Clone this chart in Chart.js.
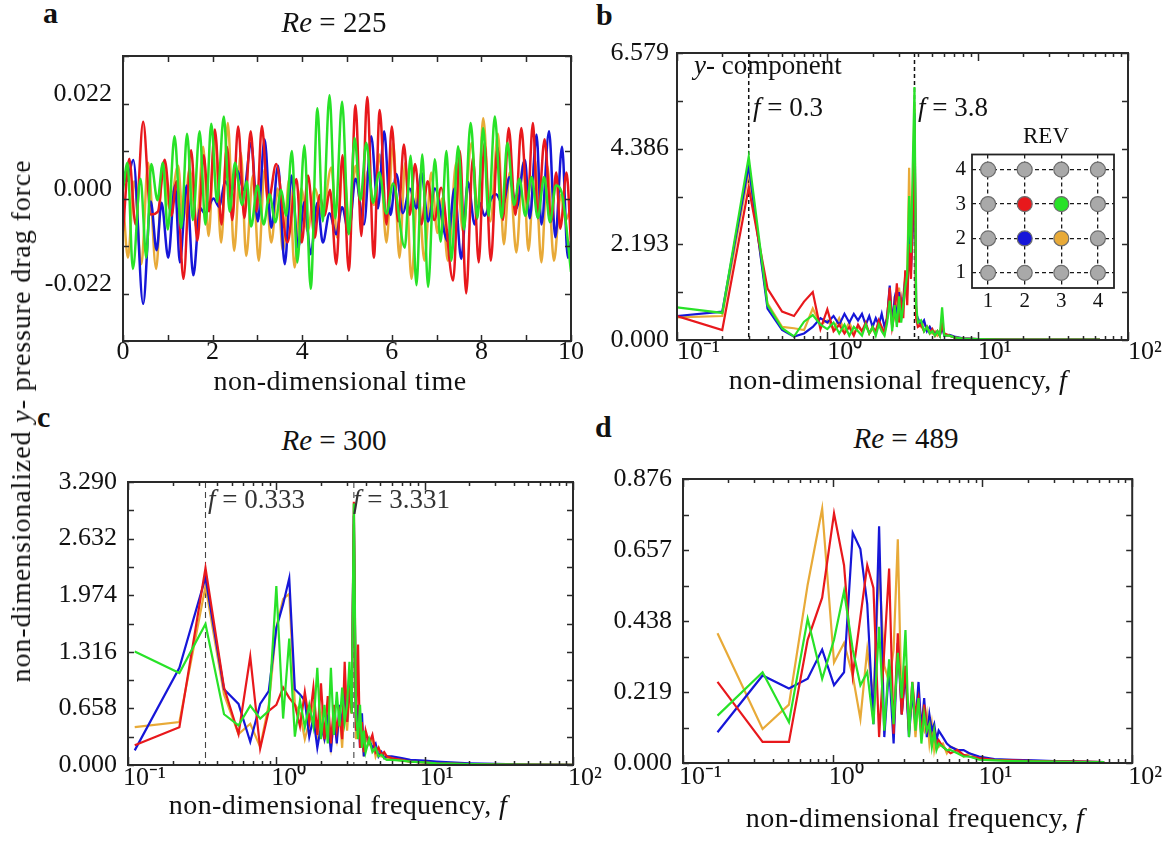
<!DOCTYPE html>
<html>
<head>
<meta charset="utf-8">
<script src="https://cdn.jsdelivr.net/npm/chart.js@4.4.1/dist/chart.umd.min.js"></script>
<style>
  body { margin: 0; width: 1167px; height: 841px; overflow: hidden; background: #fff; position: relative;
         font-family: 'Liberation Serif', 'Times New Roman', serif; color: #111; }
  canvas { position: absolute; }
  .t { position: absolute; white-space: nowrap; line-height: 1; font-size: 27px; }
  .c { transform: translateX(-50%); }
  .ti { font-size: 29px; }
  .ax { font-size: 28px; letter-spacing: 0.4px; }
  .lt { font-size: 30px; font-weight: bold; }
</style>
</head>
<body>
<canvas id="ca" width="578" height="359" style="left:23px;top:32px"></canvas>
<canvas id="cb" width="590" height="348" style="left:577px;top:32px"></canvas>
<canvas id="cc" width="585" height="347" style="left:28px;top:458px"></canvas>
<canvas id="cd" width="584" height="348" style="left:583px;top:455px"></canvas>
<canvas id="rev" width="180" height="180" style="left:942px;top:138px"></canvas>

<div class="t lt" style="left:43px;top:-2px">a</div>
<div class="t lt" style="left:596px;top:0px">b</div>
<div class="t lt" style="left:37px;top:402px">c</div>
<div class="t lt" style="left:595px;top:412px">d</div>

<div class="t c ti" style="left:334px;top:8px"><i>Re</i> = 225</div>
<div class="t c ti" style="left:334px;top:426px"><i>Re</i> = 300</div>
<div class="t c ti" style="left:906px;top:424px"><i>Re</i> = 489</div>

<div class="t c ax" style="left:340px;top:367px">non-dimensional time</div>
<div class="t c ax" style="left:898px;top:366px">non-dimensional frequency, <i>f</i></div>
<div class="t c ax" style="left:338px;top:791px">non-dimensional frequency, <i>f</i></div>
<div class="t c ax" style="left:915px;top:804px">non-dimensional frequency, <i>f</i></div>
<div class="t ax" style="left:21px;top:421px;letter-spacing:0.9px;transform:translate(-50%,-50%) rotate(-90deg)">non-dimensionalized <i>y</i>- pressure drag force</div>

<div class="t" style="left:694px;top:52px"><i>y</i>- component</div>
<div class="t" style="left:753px;top:94px"><i>f</i> = 0.3</div>
<div class="t" style="left:918px;top:94px"><i>f</i> = 3.8</div>
<div class="t" style="left:208px;top:486px;color:#333"><i>f</i> = 0.333</div>
<div class="t" style="left:353px;top:486px;color:#333"><i>f</i> = 3.331</div>
<div class="t c" style="left:1046px;top:124px;font-size:23px">REV</div>

<script>
// ---- panel a: time series [t, value] ----
const aGreen = [[0,0.002],[0.10,0.0083],[0.22,-0.0163],[0.39,0.0046],[0.52,-0.0137],[0.63,0.008],[0.77,-0.0004],[0.89,0.0083],[1.00,-0.0072],
  [1.15,0.0144],[1.30,-0.0068],[1.43,0.015],[1.56,-0.005],[1.71,0.0156],[1.84,-0.006],[1.97,0.0173],[2.10,-0.0008],[2.25,0.019],[2.38,-0.003],
  [2.50,0.0083],[2.66,-0.0015],[2.76,0.004],[2.86,-0.0065],[3.00,0.003],[3.14,-0.006],[3.27,0.001],[3.40,-0.0055],[3.53,0.002],[3.64,-0.004],
  [3.77,0.011],[3.89,-0.0148],[4.05,0.0123],[4.19,-0.0209],[4.34,0.0209],[4.46,-0.0053],[4.61,0.0239],[4.74,-0.0046],[4.89,0.0224],[5.04,-0.0083],
  [5.17,0.014],[5.30,-0.0004],[5.43,0.0129],[5.58,-0.001],[5.72,0.006],[5.88,-0.0035],[6.03,0.0035],[6.29,-0.0114],[6.42,0.0099],[6.55,-0.0201],
  [6.68,0.0102],[6.81,-0.0205],[6.96,0.0091],[7.09,-0.01],[7.22,0.011],[7.33,-0.0144],[7.48,0.0121],[7.61,-0.0072],[7.76,0.0175],[7.91,-0.0046],
  [8.04,0.0163],[8.16,-0.004],[8.30,0.019],[8.45,-0.0045],[8.58,0.0129],[8.73,-0.0015],[8.85,0.0046],[8.98,-0.004],[9.12,0.005],[9.26,-0.0045],
  [9.40,0.005],[9.53,-0.0055],[9.66,0.003],[9.80,0.001],[10,-0.017]];
const aRed = [[0,-0.0076],[0.14,0.0092],[0.28,-0.006],[0.45,0.0178],[0.62,-0.0037],[0.78,-0.003],[0.93,0.009],[1.08,-0.004],[1.2,0.004],
  [1.35,-0.0186],[1.52,0.0112],[1.66,-0.0098],[1.8,0.01],[1.92,-0.003],[2.05,0.016],[2.2,-0.006],[2.32,0.012],[2.44,-0.005],[2.57,0.0167],
  [2.71,-0.0045],[2.85,0.0156],[2.98,-0.003],[3.1,0.0168],[3.24,-0.001],[3.42,0.008],[3.67,-0.0102],[3.87,0.0045],[3.99,-0.0102],[4.13,0.0053],
  [4.28,-0.0091],[4.39,0.0008],[4.5,-0.004],[4.62,0.002],[4.76,-0.0152],[4.9,0.01],[5.04,-0.0167],[5.19,0.0216],[5.32,-0.0087],[5.45,0.0235],
  [5.6,-0.0137],[5.73,0.0205],[5.88,-0.006],[6.0,0.0167],[6.14,-0.0053],[6.27,0.0125],[6.4,-0.0038],[6.52,0.008],[6.66,-0.006],[6.8,0.004],
  [6.95,-0.005],[7.1,0.0025],[7.37,-0.019],[7.52,0.011],[7.66,-0.022],[7.81,0.0095],[7.94,-0.0148],[8.07,0.0129],[8.21,-0.0144],[8.36,0.0118],
  [8.48,-0.005],[8.61,0.0163],[8.76,-0.0038],[8.89,0.0163],[9.03,-0.0015],[9.15,0.0175],[9.26,-0.0046],[9.41,0.0137],[9.56,-0.0053],[9.67,0.006],
  [9.76,-0.007],[9.9,0.006],[10,-0.0106]];
const aBlue = [[0,0.0063],[0.08,0.004],[0.23,0.0089],[0.45,-0.0244],[0.62,-0.0007],[0.75,-0.012],[0.86,-0.001],[1.01,-0.0137],[1.16,0.003],
  [1.27,-0.0148],[1.42,0.003],[1.57,-0.0178],[1.72,-0.0022],[1.83,-0.0035],[2.02,0.0],[2.15,-0.002],[2.28,0.004],[2.42,0.0015],[2.55,0.0065],
  [2.7,0.002],[2.86,0.0129],[3.01,-0.0053],[3.16,0.0137],[3.31,-0.0068],[3.46,0.0076],[3.61,-0.0152],[3.76,0.0053],[3.91,-0.0114],[4.05,-0.0008],
  [4.19,-0.0129],[4.34,-0.001],[4.46,-0.0102],[4.61,-0.0034],[4.76,-0.0083],[4.89,-0.002],[5.04,-0.008],[5.19,0.0046],[5.38,-0.006],[5.54,0.0144],
  [5.69,-0.0023],[5.83,0.0156],[5.97,-0.0038],[6.1,0.0057],[6.25,-0.0034],[6.4,0.0023],[6.55,-0.0023],[6.66,0.006],[6.81,-0.0053],[6.96,0.0023],
  [7.25,-0.0099],[7.4,0.0023],[7.55,-0.014],[7.7,0.0038],[7.85,-0.006],[7.96,-0.001],[8.07,-0.004],[8.22,0.0],[8.33,0.001],[8.48,-0.0015],
  [8.63,0.005],[8.78,-0.0023],[8.97,0.009],[9.08,-0.0046],[9.23,0.0148],[9.34,-0.006],[9.51,0.0156],[9.65,-0.009],[9.8,0.012],[9.93,-0.0137],
  [10,-0.0099]];
const aOrange = [[0,0.0],[0.11,-0.0137],[0.25,0.004],[0.41,-0.0152],[0.56,0.0083],[0.74,-0.0163],[0.89,0.0083],[1.04,-0.0023],[1.23,0.0076],
  [1.34,-0.0053],[1.49,0.0068],[1.64,-0.0068],[1.79,0.012],[1.91,-0.0087],[2.05,0.015],[2.19,-0.0102],[2.34,0.0175],[2.48,-0.0121],[2.63,0.0106],
  [2.75,-0.0133],[2.9,0.0053],[3.03,-0.0144],[3.16,0.0068],[3.31,-0.0102],[3.45,0.0023],[3.57,-0.0121],[3.71,0.0045],[3.83,-0.016],[3.98,0.0023],
  [4.12,-0.0076],[4.28,0.0023],[4.45,-0.004],[4.65,0.0072],[4.78,-0.0091],[4.91,0.009],[5.06,-0.0065],[5.19,0.0076],[5.33,-0.0038],[5.47,0.0065],
  [5.6,-0.0015],[5.73,0.0102],[5.88,-0.0102],[6.03,0.0129],[6.17,-0.0137],[6.3,0.0083],[6.44,-0.0186],[6.58,0.003],[6.73,-0.0144],[6.88,0.006],
  [7.02,-0.008],[7.12,0.0],[7.25,-0.0144],[7.44,0.0083],[7.59,-0.0076],[7.78,0.0129],[7.92,-0.003],[8.04,0.0186],[8.2,-0.0053],[8.37,0.015],
  [8.5,-0.0106],[8.63,0.006],[8.78,-0.0125],[8.93,0.0083],[9.05,-0.0121],[9.19,0.0091],[9.34,-0.0148],[9.47,0.0076],[9.62,-0.0144],[9.77,0.0008],
  [9.88,-0.005],[10,-0.002]];
const aXTicks = [0, 1, 2, 3, 4, 5, 6, 7, 8, 9, 10];
const aXLabels = ['0', '', '2', '', '4', '', '6', '', '8', '', '10'];
const aYTicks = [-0.033, -0.022, -0.011, 0, 0.011, 0.022, 0.033];
const aYLabels = ['', '-0.022', '', '0.000', '', '0.022', ''];

// ---- panel b: spectrum, Re = 225 ----
const bFreq = [0.1,0.2,0.3,0.4,0.5,0.6,0.7,0.8,0.9,1.0, 1.1,1.2,1.3,1.4,1.5,1.6,1.7,1.8,1.9,2.0,
  2.1,2.2,2.3,2.4,2.5,2.6,2.7,2.8,2.9,3.0, 3.1,3.2,3.3,3.4,3.5,3.6,3.7,3.8,3.9,4.0,
  4.2,4.4,4.6,4.8,5.0,5.2,5.4,5.6,5.8,6.0, 6.5,7,8,10,15,20,30,45,65];
const bRed = [0.55,0.23,3.5,1.18,0.65,0.55,0.88,1.1,0.25,0.7, 0.2,0.35,0.15,0.3,0.1,0.35,0.2,0.4,0.15,0.3,
  0.2,0.45,0.3,0.15,0.5,1.2,0.3,0.6,1.3,0.4, 0.9,0.5,1.6,0.8,2.2,1.4,2.8,4.9,0.5,0.3,
  0.35,0.2,0.3,0.15,0.25,0.1,0.2,0.1,0.35,0.15, 0.1,0.06,0.03,0.02,0.01,0.01,0.01,0.01,0.01];
const bBlue = [0.55,0.65,4.0,0.72,0.23,0.08,0.15,0.3,0.5,0.4, 0.55,0.35,0.6,0.4,0.6,0.45,0.6,0.35,0.55,0.3,
  0.5,0.35,0.6,0.3,0.5,1.25,0.4,0.9,0.5,1.1, 0.6,0.9,1.4,1.2,2.4,1.6,2.5,5.2,0.6,0.5,
  0.35,0.45,0.2,0.3,0.2,0.15,0.2,0.1,0.3,0.1, 0.12,0.08,0.04,0.02,0.01,0.01,0.01,0.01,0.01];
const bOrange = [0.52,0.55,3.85,0.84,0.3,0.27,0.23,0.72,0.35,0.45, 0.25,0.5,0.2,0.4,0.15,0.3,0.2,0.35,0.15,0.25,
  0.15,0.4,0.25,0.2,0.6,1.1,0.3,1.0,0.5,1.2, 0.6,1.0,1.5,1.4,3.95,1.8,3.2,5.4,0.5,0.4,
  0.3,0.4,0.25,0.3,0.15,0.2,0.1,0.15,0.4,0.1, 0.1,0.06,0.03,0.02,0.01,0.01,0.01,0.01,0.01];
const bGreen = [0.75,0.62,4.2,0.8,0.27,0.08,0.42,0.57,0.35,0.25, 0.4,0.15,0.35,0.1,0.3,0.2,0.1,0.35,0.15,0.3,
  0.1,0.35,0.2,0.1,0.4,0.9,0.2,0.8,0.3,1.0, 0.4,0.8,1.2,1.5,3.3,2.0,4.0,5.8,0.8,0.4,
  0.45,0.2,0.3,0.15,0.2,0.1,0.2,0.1,0.75,0.1, 0.1,0.06,0.03,0.02,0.01,0.01,0.01,0.01,0.01];
const bYTicks = [0, 1.0965, 2.193, 3.2895, 4.386, 5.4825, 6.579];
const bYLabels = ['0.000', '', '2.193', '', '4.386', '', '6.579'];

// ---- panel c: spectrum, Re = 300 ----
const cFreq = [0.111,0.222,0.333,0.444,0.556,0.667,0.778,0.889,1.0,1.111, 1.222,1.333,1.444,1.556,1.667,1.778,1.889,2.0,2.111,2.222,
  2.333,2.444,2.556,2.667,2.778,2.889,3.0,3.111,3.222,3.331, 3.444,3.556,3.667,3.778,3.889,4.0,
  4.222,4.444,4.667,4.889,5.111,5.333,5.556, 6,7,8,10,12,15,20,30,50,100];
const cRed = [0.23,0.44,2.29,0.9,0.36,1.26,0.19,0.63,0.7,0.9, 0.78,0.7,0.45,0.85,0.5,0.9,0.35,0.95,0.3,0.8,
  0.25,0.7,0.4,0.6,0.3,1.2,0.5,0.9,0.6,3.06, 0.4,1.4,0.2,0.5,0.15,0.4,
  0.25,0.35,0.15,0.2,0.12,0.15,0.1, 0.08,0.06,0.04,0.03,0.02,0.015,0.01,0.008,0.005,0.003];
const cBlue = [0.17,1.13,2.18,0.88,0.71,0.27,0.71,0.86,1.59,1.87, 2.17,0.88,0.82,0.75,0.33,0.55,0.2,0.45,0.3,0.55,
  0.15,0.6,0.25,0.7,0.45,0.9,0.5,1.1,0.7,2.9, 0.4,0.7,0.2,0.6,0.1,0.35,
  0.3,0.2,0.25,0.1,0.15,0.08,0.1, 0.1,0.08,0.06,0.05,0.04,0.03,0.02,0.012,0.006,0.003];
const cOrange = [0.44,0.5,2.08,0.82,0.36,0.48,0.21,0.7,1.6,1.93, 1.99,0.71,0.6,0.3,0.5,0.7,0.35,0.6,0.3,0.45,
  0.2,0.5,0.3,0.6,0.2,0.75,0.4,0.8,0.6,2.8, 0.3,0.5,0.6,0.35,0.1,0.3,
  0.25,0.3,0.1,0.2,0.1,0.12,0.08, 0.07,0.05,0.04,0.03,0.02,0.015,0.01,0.008,0.005,0.003];
const cGreen = [1.32,1.07,1.64,0.59,0.46,0.69,0.54,0.63,2.08,0.54, 1.47,0.33,0.75,0.44,0.7,0.45,1.13,0.3,0.7,0.25,
  1.13,0.35,0.85,0.45,0.9,0.5,0.7,1.2,0.6,3.04, 0.6,0.3,0.7,0.2,0.4,0.15,
  0.3,0.15,0.2,0.1,0.12,0.08,0.06, 0.06,0.05,0.04,0.03,0.02,0.015,0.01,0.008,0.005,0.003];
const cYTicks = [0, 0.329, 0.658, 0.987, 1.316, 1.645, 1.974, 2.303, 2.632, 2.961, 3.29];
const cYLabels = ['0.000', '', '0.658', '', '1.316', '', '1.974', '', '2.632', '', '3.290'];

// ---- panel d: spectrum, Re = 489 ----
const dFreq = [0.17,0.34,0.51,0.68,0.85,1.02,1.19,1.36,1.53,1.70, 1.87,2.04,2.21,2.38,2.55,2.72,2.89,3.06,3.23,3.40,
  3.57,3.74,3.91,4.08,4.25,4.42,4.59,4.76,4.93,5.10, 5.44,5.78,6.12,6.8,7.48,8.16,9.5,12,16,22,30,45,65];
const dRed = [0.25,0.065,0.065,0.38,0.51,0.77,0.61,0.27,0.45,0.61, 0.54,0.08,0.35,0.6,0.09,0.4,0.15,0.3,0.1,0.25,
  0.15,0.2,0.08,0.18,0.1,0.12,0.06,0.1,0.05,0.07, 0.05,0.04,0.03,0.04,0.025,0.02,0.015,0.01,0.008,0.006,0.005,0.004,0.003];
const dBlue = [0.095,0.27,0.23,0.26,0.35,0.24,0.28,0.71,0.66,0.49, 0.12,0.73,0.08,0.3,0.06,0.37,0.15,0.28,0.08,0.22,
  0.12,0.25,0.1,0.2,0.08,0.15,0.1,0.12,0.07,0.1, 0.08,0.06,0.05,0.04,0.04,0.03,0.02,0.012,0.01,0.008,0.006,0.004,0.003];
const dOrange = [0.4,0.105,0.18,0.55,0.785,0.31,0.37,0.27,0.136,0.35, 0.2,0.61,0.3,0.25,0.35,0.69,0.15,0.3,0.1,0.22,
  0.08,0.2,0.12,0.1,0.15,0.06,0.12,0.04,0.08,0.05, 0.06,0.03,0.05,0.04,0.02,0.03,0.015,0.01,0.008,0.006,0.005,0.004,0.003];
const dGreen = [0.146,0.28,0.126,0.445,0.26,0.38,0.53,0.35,0.24,0.28, 0.12,0.42,0.1,0.32,0.12,0.34,0.2,0.41,0.08,0.25,
  0.1,0.2,0.06,0.15,0.1,0.12,0.05,0.1,0.04,0.06, 0.05,0.04,0.04,0.03,0.02,0.02,0.01,0.008,0.006,0.005,0.004,0.003,0.003];
const dYTicks = [0, 0.1095, 0.219, 0.3285, 0.438, 0.5475, 0.657, 0.7665, 0.876];
const dYLabels = ['0.000', '', '0.219', '', '0.438', '', '0.657', '', '0.876'];

// shared log axis ticks (major + minor)
const logTicks = [0.1,0.2,0.3,0.4,0.5,0.6,0.7,0.8,0.9, 1,2,3,4,5,6,7,8,9, 10,20,30,40,50,60,70,80,90, 100];
const logNames = {0.1: '10⁻¹', 1: '10⁰', 10: '10¹', 100: '10²'};
const logLabels = logTicks.map(v => logNames[v] || '');

// REV inset grid
const revCols = [1, 2, 3, 4];
const revRows = [1, 2, 3, 4];
const revMarked = [[2, 3, 'red'], [3, 3, 'green'], [2, 2, 'blue'], [3, 2, 'orange']];

const COLORS = { green: '#28e228', red: '#e8181c', blue: '#1616d8', orange: '#e8aa38' };
const SERIF = "'Liberation Serif', 'Times New Roman', serif";
const tickFont = { family: SERIF, size: 26, lineHeight: 1 };

// inward tick marks, box frame and dashed marker lines
const framePlugin = {
  id: 'frame',
  beforeInit(chart) { chart.ctx.letterSpacing = '0.8px'; },
  beforeDatasetsDraw(chart, args, o) {
    const { ctx, chartArea: a } = chart;
    const x = chart.scales.x;
    ctx.save();
    (o.vlines || []).forEach(v => {
      const px = x.getPixelForValue(v.at);
      ctx.strokeStyle = v.color; ctx.lineWidth = v.width; ctx.setLineDash(v.dash);
      ctx.beginPath(); ctx.moveTo(px, a.top); ctx.lineTo(px, a.bottom); ctx.stroke();
    });
    ctx.restore();
  },
  afterDatasetsDraw(chart, args, o) {
    const { ctx, chartArea: a } = chart;
    const { x, y } = chart.scales;
    ctx.save();
    ctx.strokeStyle = '#2a2a2a';
    ctx.lineWidth = 1.5;
    ctx.beginPath();
    x.ticks.forEach(t => {
      const px = Math.round(x.getPixelForValue(t.value)) + 0.5;
      const len = t.label ? o.xMajor : o.xMinor;
      ctx.moveTo(px, a.bottom); ctx.lineTo(px, a.bottom - len);
      ctx.moveTo(px, a.top); ctx.lineTo(px, a.top + len);
    });
    y.ticks.forEach(t => {
      const py = Math.round(y.getPixelForValue(t.value)) + 0.5;
      ctx.moveTo(a.left, py); ctx.lineTo(a.left + o.yLen, py);
      ctx.moveTo(a.right, py); ctx.lineTo(a.right - o.yLen, py);
    });
    ctx.stroke();
    ctx.lineWidth = 2;
    ctx.strokeRect(a.left, a.top, a.right - a.left, a.bottom - a.top);
    ctx.restore();
  }
};

function series(pairsOrFreq, values, color, order, width) {
  const data = values
    ? pairsOrFreq.map((f, i) => ({ x: f, y: values[i] }))
    : pairsOrFreq.map(([t, v]) => ({ x: t, y: v }));
  return { data, borderColor: color, borderWidth: width, pointRadius: 0, order, fill: false };
}

function yScale(cfg) {
  return {
    type: 'linear', min: cfg.yTicks[0], max: cfg.yTicks[cfg.yTicks.length - 1],
    afterBuildTicks: s => { s.ticks = cfg.yTicks.map(v => ({ value: v })); },
    afterFit: s => { s.width = cfg.yw; },
    grid: { display: false, drawTicks: false }, border: { display: false },
    ticks: { autoSkip: false, padding: cfg.yPad, labelOffset: cfg.yOff || 0, color: '#111', font: tickFont,
             callback: (v, i) => cfg.yLabels[i] }
  };
}

function makePanel(id, cfg) {
  return new Chart(document.getElementById(id), {
    type: 'line',
    data: { datasets: cfg.datasets },
    options: {
      responsive: false, animation: false, devicePixelRatio: 1,
      layout: { autoPadding: false, padding: { left: 0, top: cfg.pt, right: cfg.pr, bottom: 0 } },
      plugins: { legend: { display: false }, tooltip: { enabled: false }, frame: cfg.frame },
      scales: { x: cfg.x, y: yScale(cfg) }
    },
    plugins: [framePlugin]
  });
}

function logX(cfg) {
  return {
    type: 'logarithmic', min: 0.1, max: 100,
    afterBuildTicks: s => { s.ticks = logTicks.map(v => ({ value: v })); },
    afterFit: s => { s.height = cfg.xh; },
    grid: { display: false, drawTicks: false }, border: { display: false },
    ticks: { autoSkip: false, maxRotation: 0, align: 'start', labelOffset: cfg.xOff, padding: cfg.xPad,
             color: '#111', font: tickFont, callback: (v, i) => logLabels[i] }
  };
}

function spectrum(freq, g, r, b, o) {
  return [
    series(freq, g, COLORS.green, 0, 2.2),
    series(freq, r, COLORS.red, 1, 2.2),
    series(freq, b, COLORS.blue, 2, 2.2),
    series(freq, o, COLORS.orange, 3, 2.2)
  ];
}

// panel a
makePanel('ca', {
  pt: 20, pr: 30, yw: 100, yPad: 11, yOff: -9,
  yTicks: aYTicks, yLabels: aYLabels,
  frame: { xMajor: 6, xMinor: 6, yLen: 6 },
  datasets: [
    series(aGreen, null, COLORS.green, 0, 2.5),
    series(aRed, null, COLORS.red, 1, 2.5),
    series(aBlue, null, COLORS.blue, 2, 2.5),
    series(aOrange, null, COLORS.orange, 3, 2.5)
  ].map(d => Object.assign(d, { cubicInterpolationMode: 'monotone' })),
  x: {
    type: 'linear', min: 0, max: 10,
    afterBuildTicks: s => { s.ticks = aXTicks.map(v => ({ value: v })); },
    afterFit: s => { s.height = 50; },
    grid: { display: false, drawTicks: false }, border: { display: false },
    ticks: { autoSkip: false, maxRotation: 0, padding: -2, color: '#111', font: tickFont,
             callback: (v, i) => aXLabels[i] }
  }
});

// panel b
makePanel('cb', {
  pt: 20, pr: 39, yw: 100, yPad: 8,
  yTicks: bYTicks, yLabels: bYLabels,
  frame: { xMajor: 8, xMinor: 4, yLen: 6,
           vlines: [{ at: 0.3, color: '#111', width: 1.5, dash: [4, 3] }, { at: 3.8, color: '#111', width: 1.5, dash: [4, 3] }] },
  datasets: spectrum(bFreq, bGreen, bRed, bBlue, bOrange),
  x: logX({ xh: 40, xOff: 0, xPad: -1 })
});

// panel c
makePanel('cc', {
  pt: 20, pr: 40, yw: 100, yPad: 11,
  yTicks: cYTicks, yLabels: cYLabels,
  frame: { xMajor: 8, xMinor: 4, yLen: 6,
           vlines: [{ at: 0.333, color: '#444', width: 1.1, dash: [6, 4] }, { at: 3.331, color: '#444', width: 1.1, dash: [6, 4] }] },
  datasets: spectrum(cFreq, cGreen, cRed, cBlue, cOrange),
  x: logX({ xh: 40, xOff: -5, xPad: 0 })
});

// panel d
makePanel('cd', {
  pt: 20, pr: 34, yw: 100, yPad: 11,
  yTicks: dYTicks, yLabels: dYLabels,
  frame: { xMajor: 8, xMinor: 4, yLen: 6 },
  datasets: spectrum(dFreq, dGreen, dRed, dBlue, dOrange),
  x: logX({ xh: 40, xOff: -4, xPad: 1 })
});

// REV inset: 4x4 grid of cylinders
const revPts = [], revFill = [];
revRows.forEach(r => revCols.forEach(c => {
  const m = revMarked.find(([mc, mr]) => mc === c && mr === r);
  revPts.push({ x: c, y: r });
  revFill.push(m ? COLORS[m[2]] : '#a9a9a9');
}));
const revFont = { family: SERIF, size: 21, lineHeight: 1 };
const revAxis = (horizontal) => ({
  type: 'linear', min: 0.56, max: 4.44,
  afterBuildTicks: s => { s.ticks = (horizontal ? revCols : revRows).map(v => ({ value: v })); },
  afterFit: s => { if (horizontal) s.height = 30; else s.width = 30; },
  grid: { color: '#1a1a1a', lineWidth: 1.3, drawTicks: false },
  border: { display: false, dash: [4, 3] },
  ticks: { padding: horizontal ? 3 : 6, color: '#111', font: revFont }
});
new Chart(document.getElementById('rev'), {
  type: 'scatter',
  data: { datasets: [{ data: revPts, pointRadius: 7.5, pointBackgroundColor: revFill,
                       pointBorderColor: '#6e6e6e', pointBorderWidth: 1.2 }] },
  options: {
    responsive: false, animation: false, devicePixelRatio: 1,
    layout: { autoPadding: false, padding: { left: 0, top: 8, right: 8, bottom: 0 } },
    plugins: { legend: { display: false }, tooltip: { enabled: false } },
    scales: { x: revAxis(true), y: revAxis(false) }
  },
  plugins: [{
    id: 'revBox',
    beforeDraw(chart) {
      const { ctx, chartArea: a } = chart;
      ctx.save(); ctx.fillStyle = '#fff'; ctx.fillRect(a.left, a.top, a.right - a.left, a.bottom - a.top); ctx.restore();
    },
    afterDraw(chart) {
      const { ctx, chartArea: a } = chart;
      ctx.save(); ctx.strokeStyle = '#222'; ctx.lineWidth = 1.8;
      ctx.strokeRect(a.left, a.top, a.right - a.left, a.bottom - a.top); ctx.restore();
    }
  }]
});
</script>
</body>
</html>
